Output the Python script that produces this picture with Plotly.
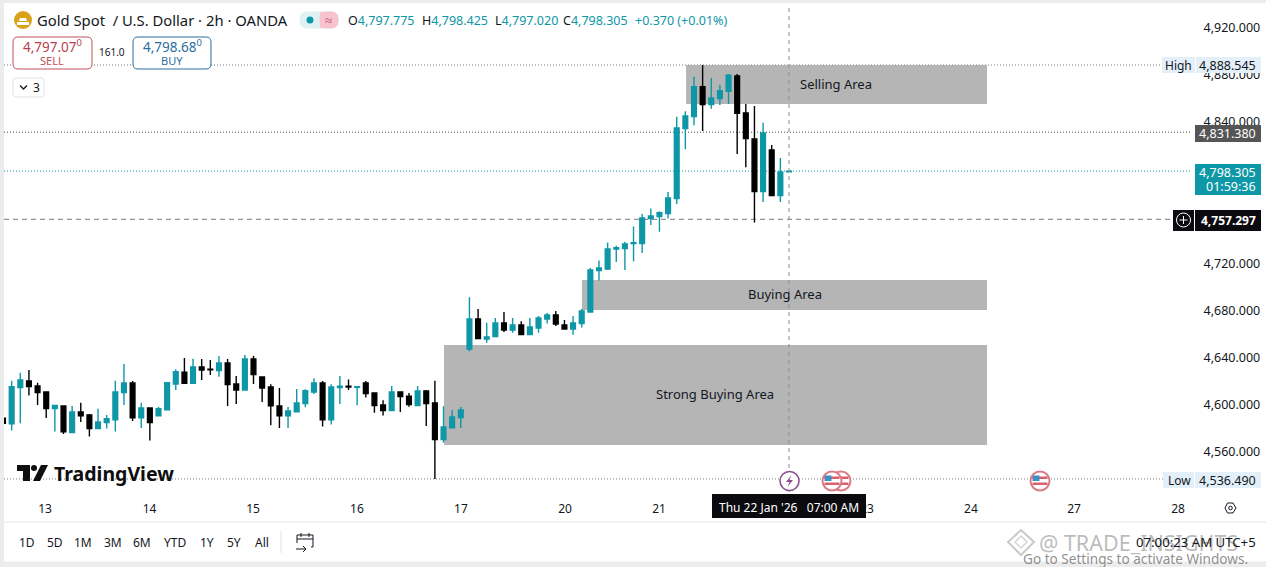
import plotly.graph_objects as go

bar_index = list(range(1, 93))
opens = [4588.1,4583.3,4614.2,4619.8,4615.6,4610.5,4596.3,4598.6,4575.9,4593.5,4590.9,4579.3,4584.4,4586.7,4609.9,4618.1,4588.4,4596.9,4590.1,4595.2,
         4617.3,4627.2,4617.9,4631.7,4629.8,4628.6,4635.1,4617.3,4612.2,4638.5,4623.2,4614.7,4598.6,4590.1,4593.5,4600.6,4610.5,4618.1,4586.7,4614.2,
         4615.3,4614.5,4618.1,4609.6,4599.4,4594.6,4610.5,4606.8,4598.9,4611.3,4601.1,4570.0,4579.9,4588.7,4647.0,4672.5,4655.5,4657.5,4669.1,4663.2,
         4667.4,4659.2,4664.9,4672.5,4676.0,4667.4,4664.0,4668.6,4678.5,4713.7,4715.1,4732.1,4732.4,4736.6,4736.6,4757.9,4759.6,4762.1,4774.9,4834.4,
         4844.6,4870.1,4854.8,4859.9,4866.2,4879.2,4847.7,4825.6,4780.9,4816.3,4777.5,4797.775]
highs = [4590.1,4620.1,4626.9,4629.2,4618.4,4610.8,4599.2,4598.9,4598.6,4601.4,4591.8,4596.3,4590.9,4620.1,4634.3,4619.8,4601.4,4597.2,4598.0,4618.7,
         4629.8,4639.4,4638.8,4638.5,4637.7,4641.1,4638.5,4624.1,4641.9,4641.1,4623.5,4617.0,4613.9,4597.7,4613.0,4612.7,4622.1,4619.8,4617.0,4624.1,
         4621.0,4615.2,4619.8,4610.2,4603.4,4615.6,4610.8,4609.6,4615.6,4612.2,4620.1,4598.3,4595.2,4597.7,4691.0,4681.0,4669.4,4673.4,4678.5,4673.4,
         4670.6,4673.4,4675.1,4677.6,4679.3,4671.7,4675.1,4681.0,4715.9,4722.2,4737.5,4734.9,4738.3,4751.1,4761.9,4766.4,4764.1,4780.6,4844.6,4849.2,
         4878.6,4888.545,4877.5,4871.8,4880.9,4880.9,4855.4,4853.7,4839.5,4820.5,4809.5,4798.425]
lows = [4582.7,4577.6,4583.9,4607.4,4599.4,4588.4,4576.8,4574.8,4575.6,4585.0,4572.5,4579.0,4579.3,4576.8,4599.4,4585.8,4579.9,4569.1,4589.8,4594.9,
        4612.2,4617.3,4617.6,4620.7,4624.9,4623.5,4598.6,4600.3,4612.0,4617.3,4602.0,4582.2,4579.9,4579.9,4593.2,4597.4,4608.8,4581.0,4582.7,4600.3,
        4612.2,4599.1,4605.7,4592.9,4590.4,4594.3,4593.5,4598.0,4598.3,4581.6,4536.49,4567.4,4579.6,4579.9,4645.1,4655.5,4652.4,4657.2,4661.5,4660.9,
        4659.0,4659.0,4660.9,4668.6,4666.6,4663.8,4659.2,4665.2,4678.2,4705.2,4714.2,4721.1,4714.2,4721.6,4728.7,4752.5,4746.8,4757.9,4770.4,4816.8,
        4837.2,4832.4,4851.4,4854.5,4855.4,4812.9,4801.5,4754.5,4772.1,4777.2,4772.1,4797.02]
closes = [4583.9,4615.0,4620.7,4615.0,4609.9,4596.3,4598.9,4576.5,4593.5,4590.1,4579.3,4585.0,4587.8,4610.5,4618.1,4588.4,4596.9,4584.4,4596.3,4618.4,
          4627.8,4617.9,4631.7,4629.2,4629.3,4635.1,4616.7,4612.2,4638.5,4625.2,4613.9,4598.6,4590.1,4594.3,4601.1,4611.6,4618.1,4586.7,4614.7,4615.3,
          4614.7,4615.0,4609.1,4598.9,4594.6,4610.5,4606.5,4599.7,4611.3,4600.6,4570.0,4580.7,4589.2,4595.2,4672.5,4655.8,4657.2,4669.1,4663.2,4667.4,
          4659.2,4665.7,4673.4,4676.0,4668.3,4664.0,4669.1,4679.3,4714.2,4715.9,4732.1,4733.2,4736.4,4737.5,4758.5,4760.2,4763.0,4775.5,4835.0,4845.2,
          4870.1,4854.8,4860.5,4866.7,4879.8,4847.5,4825.9,4780.9,4830.7,4777.5,4797.6,4798.305]

price_ticks = [4560, 4600, 4640, 4680, 4720, 4840, 4880, 4920]
price_tick_text = ["4,560.000", "4,600.000", "4,640.000", "4,680.000", "4,720.000", "4,840.000", "4,880.000", "4,920.000"]
date_tick_pos = [5.86, 17.96, 29.94, 41.98, 54.02, 66.07, 76.95, 101.03, 113.07, 125.0, 137.04]
date_tick_text = ["13", "14", "15", "16", "17", "20", "21", "23", "24", "27", "28"]

zone_names = ["Selling Area", "Buying Area", "Strong Buying Area"]
zone_x0 = [80.08, 68.03, 52.06]
zone_x1 = [114.93, 114.93, 114.93]
zone_y0 = [4855.4, 4680.2, 4565.4]
zone_y1 = [4888.5, 4705.7, 4650.4]
zone_label_x = [97.44, 91.5, 83.43]

range_buttons = ["1D", "5D", "1M", "3M", "6M", "YTD", "1Y", "5Y", "All"]
range_button_x = [27, 55, 83, 113, 142, 175, 207, 234, 262]

TEAL = "#0e97a6"
FONT = "Noto Sans"
INK = "#131722"
L, R, T, B = 4, 1192, 4, 492


def X(x):
    return (x - L) / (R - L)


def Y(y):
    return (B - y) / (B - T)


shapes = []
annotations = []


def rect(x0, y0, x1, y1, fill, line=None, lw=0, layer="above"):
    shapes.append(dict(type="rect", xref="paper", yref="paper", x0=X(x0), x1=X(x1), y0=Y(y0), y1=Y(y1),
                       fillcolor=fill, line=dict(color=line or fill, width=lw), layer=layer))


def circle(cx, cy, r, fill, line=None, lw=0):
    shapes.append(dict(type="circle", xref="paper", yref="paper", x0=X(cx - r), x1=X(cx + r), y0=Y(cy - r), y1=Y(cy + r),
                       fillcolor=fill, line=dict(color=line or fill, width=lw), layer="above"))


def poly(points, fill="rgba(0,0,0,0)", line=None, lw=0, close=True):
    d = "M " + " L ".join(f"{X(a):.5f},{Y(b):.5f}" for a, b in points) + (" Z" if close else "")
    shapes.append(dict(type="path", xref="paper", yref="paper", path=d, fillcolor=fill,
                       line=dict(color=line or fill, width=lw), layer="above"))


def rrect(x0, y0, x1, y1, r, fill, line, lw=1):
    d = (f"M {X(x0+r):.5f},{Y(y0):.5f} L {X(x1-r):.5f},{Y(y0):.5f} Q {X(x1):.5f},{Y(y0):.5f} {X(x1):.5f},{Y(y0+r):.5f} "
         f"L {X(x1):.5f},{Y(y1-r):.5f} Q {X(x1):.5f},{Y(y1):.5f} {X(x1-r):.5f},{Y(y1):.5f} "
         f"L {X(x0+r):.5f},{Y(y1):.5f} Q {X(x0):.5f},{Y(y1):.5f} {X(x0):.5f},{Y(y1-r):.5f} "
         f"L {X(x0):.5f},{Y(y0+r):.5f} Q {X(x0):.5f},{Y(y0):.5f} {X(x0+r):.5f},{Y(y0):.5f} Z")
    shapes.append(dict(type="path", xref="paper", yref="paper", path=d, fillcolor=fill,
                       line=dict(color=line, width=lw), layer="above"))


def text(x, y, s, size=12, color=INK, anchor="left", family=FONT):
    annotations.append(dict(xref="paper", yref="paper", x=X(x), y=Y(y), text=s, showarrow=False,
                            xanchor=anchor, yanchor="middle", borderpad=0,
                            font=dict(size=size, color=color, family=family)))


# zones
for name, x0, x1, y0, y1, lx in zip(zone_names, zone_x0, zone_x1, zone_y0, zone_y1, zone_label_x):
    shapes.append(dict(type="rect", xref="x", yref="y", x0=x0, x1=x1, y0=y0, y1=y1,
                       fillcolor="#b5b5b5", line=dict(width=0), layer="below"))
    annotations.append(dict(xref="x", yref="y", x=lx, y=(y0 + y1) / 2 + 0.8, text=name, showarrow=False,
                            font=dict(size=13, color=INK, family=FONT)))

# price lines
for p, col, dash in [(highs[81], "#787b86", "1px,2px"), (4831.38, "#444444", "1px,2px"), (closes[-1], TEAL, "1px,2px"),
                     (4757.297, "#787b86", "5px,4px"), (lows[50], "#787b86", "1px,2px")]:
    shapes.append(dict(type="line", xref="paper", yref="y", x0=0, x1=1, y0=p, y1=p, layer="below",
                       line=dict(color=col, width=1, dash=dash)))
# crosshair
shapes.append(dict(type="line", xref="x", yref="paper", x0=bar_index[-1], x1=bar_index[-1], y0=0, y1=1,
                   layer="above", line=dict(color="#8a8d96", width=1, dash="4px,4px")))

# frame
rect(0, 0, 1266, 3, "#ececec")
rect(0, 0, 4, 567, "#ececec")
rect(0, 561.5, 1266, 567, "#ececec")
shapes.append(dict(type="line", xref="paper", yref="paper", x0=X(4), x1=X(1266), y0=Y(522), y1=Y(522),
                   line=dict(color="#e4e6eb", width=1), layer="above"))

# header
circle(23, 20, 9, "#d9a21b")
poly([(17, 22), (29, 22), (29, 25), (17, 25)], "#ffffff")
poly([(20, 18), (26, 18), (27, 21), (19, 21)], "#ffffff")
text(36, 20, "Gold Spot  / U.S. Dollar · 2h · OANDA", 14.8)
rrect(300, 12, 338, 28, 7, "#dff1f3", "#dff1f3")
rrect(320, 12, 338, 28, 7, "#f6c3cf", "#f6c3cf")
rect(320, 12, 326, 28, "#f6c3cf")
circle(310, 20, 3.5, TEAL)
text(328, 20, "≈", 13, "#c2475c", "center")
for x, lab, val in [(347, "O", "4,797.775"), (421, "H", "4,798.425"), (494, "L", "4,797.020"), (562, "C", "4,798.305")]:
    text(x, 20, f'<span style="color:{INK}">{lab}</span>{val}', 12.5, TEAL)
text(634, 20, "+0.370 (+0.01%)", 12.5, TEAL)

rrect(13, 37, 92, 69, 5, "#ffffff", "#c0505c")
text(52, 46, "4,797.07<sup>0</sup>", 13.5, "#b8404e", "center")
text(52, 60, "SELL", 11, "#c0505c", "center")
text(112, 52, "161.0", 10, INK, "center")
rrect(133, 37, 211, 69, 5, "#ffffff", "#2c6e9e")
text(172, 46, "4,798.68<sup>0</sup>", 13.5, "#2c6e9e", "center")
text(172, 60, "BUY", 11, "#2c6e9e", "center")
rrect(13, 78, 44, 97, 3, "#ffffff", "#e0e3eb")
poly([(20, 85.5), (23.5, 89), (27, 85.5)], line=INK, lw=1.3, close=False)
text(36, 88, "3", 12, INK, "center")

# right-hand labels
rect(1162, 57, 1195, 73, "#e3eff9")
rect(1196, 57, 1261, 73, "#e3eff9")
text(1178, 65, "High", 12, INK, "center")
text(1257, 65, "4,888.545", 12.5, INK, "right")
rect(1195, 125, 1261, 142, "#555555")
text(1257, 133, "4,831.380", 12.5, "#ffffff", "right")
rect(1195, 164, 1261, 195, TEAL)
text(1257, 172, "4,798.305", 12.5, "#ffffff", "right")
text(1257, 186, "01:59:36", 12.5, "#ffffff", "right")
rect(1173, 210, 1194, 231, "#0b0b0f")
rect(1195, 210, 1261, 231, "#0b0b0f")
circle(1183.5, 220, 7, "#0b0b0f", "#ffffff", 1)
poly([(1183.5, 216), (1183.5, 224)], line="#ffffff", lw=1, close=False)
poly([(1179.5, 220), (1187.5, 220)], line="#ffffff", lw=1, close=False)
text(1257, 220, "<b>4,757.297</b>", 12, "#ffffff", "right")
rect(1163, 472, 1194, 488, "#e3eff9")
rect(1195, 472, 1261, 488, "#e3eff9")
text(1179, 480, "Low", 12, INK, "center")
text(1257, 480, "4,536.490", 12.5, INK, "right")

# TradingView logo
poly([(17, 465), (30, 465), (30, 481), (23, 481), (23, 471), (17, 471)], "#0f0f0f")
circle(34, 468, 3, "#0f0f0f")
poly([(41, 465), (48, 465), (40, 481), (33, 481)], "#0f0f0f")
text(53, 473, "<b>TradingView</b>", 19.5, "#0f0f0f")

# event icons
circle(789.5, 481, 9.5, "#ffffff", "#8b4f8e", 1.6)
poly([(791.5, 475), (786, 482), (789.5, 482), (787.5, 487), (793, 480), (789.5, 480)], "#8b4f8e")


def flag(cx):
    circle(cx, 481, 9.5, "#ffffff", "#dd7c86", 2)
    rect(cx - 7.5, 476.5, cx + 7.5, 479, "#d8606c")
    rect(cx - 7.5, 482.5, cx + 7.5, 485, "#d8606c")
    rect(cx - 7.5, 475.5, cx - 0.5, 481, "#3f8fc4")


for c in [841, 832, 1040]:
    flag(c)

# date label & settings
rect(712, 494, 866, 518, "#0b0b0f")
text(789, 507, "Thu 22 Jan '26   07:00 AM", 12, "#ffffff", "center")
hex_pts = [(1225, 508), (1227.5, 503), (1233, 503), (1236, 508), (1233, 513), (1227.5, 513)]
poly(hex_pts, line=INK, lw=1)
circle(1230.5, 508, 1.8, "#ffffff", INK, 1)

# footer
for lab, x in zip(range_buttons, range_button_x):
    text(x, 542, lab, 12, INK, "center")
shapes.append(dict(type="line", xref="paper", yref="paper", x0=X(281), x1=X(281), y0=Y(531), y1=Y(553),
                   line=dict(color="#e0e3eb", width=1), layer="above"))
poly([(311, 547), (313, 547), (313, 535), (297, 535), (297, 543)], line=INK, lw=1, close=False)
poly([(297, 539), (313, 539)], line=INK, lw=1, close=False)
poly([(301, 533), (301, 537)], line=INK, lw=1, close=False)
poly([(309, 533), (309, 537)], line=INK, lw=1, close=False)
poly([(296, 549), (306, 549)], line=INK, lw=1, close=False)
poly([(303, 546), (306, 549), (303, 552)], line=INK, lw=1, close=False)

poly([(1021, 530), (1034, 542), (1021, 555), (1008, 542)], line="#c9c9c9", lw=2)
poly([(1021, 536), (1027, 542), (1021, 548), (1015, 542)], line="#d5d5d5", lw=1.5)
text(1038, 542, "@ TRADE_INSIGHTS", 21.5, "rgba(120,120,120,0.5)")
text(1257, 542, "07:00:23 AM UTC+5", 13.2, INK, "right")
text(1022, 558, "Go to Settings to activate Windows.", 13.6, "rgba(130,130,130,0.9)")

fig = go.Figure(go.Candlestick(
    x=bar_index, open=opens, high=highs, low=lows, close=closes,
    increasing=dict(line=dict(color=TEAL, width=1.4), fillcolor=TEAL),
    decreasing=dict(line=dict(color="#000000", width=1.4), fillcolor="#000000"),
    whiskerwidth=0, hoverinfo="skip", showlegend=False,
))

fig.update_layout(
    width=1266, height=567, autosize=False,
    margin=dict(l=L, r=1266 - R, t=T, b=567 - B, pad=0),
    paper_bgcolor="#ffffff", plot_bgcolor="#ffffff",
    showlegend=False, boxgap=0.22, hovermode=False,
    shapes=shapes, annotations=annotations,
    font=dict(family=FONT, size=12, color=INK),
    xaxis=dict(range=[1.112, 138.66], tickmode="array", tickvals=date_tick_pos, ticktext=date_tick_text,
               showgrid=False, zeroline=False, showline=False, ticks="outside", ticklen=6,
               tickcolor="rgba(0,0,0,0)", rangeslider=dict(visible=False), fixedrange=True),
    yaxis=dict(range=[4525.4, 4940.4], side="right", tickmode="array", tickvals=price_ticks, ticktext=price_tick_text,
               showgrid=False, zeroline=False, showline=False, ticks="outside", ticklen=8,
               tickfont=dict(size=12.5), tickcolor="rgba(0,0,0,0)", fixedrange=True),
)

fig.write_html("out.html", config=dict(displayModeBar=False, responsive=False),
               post_script="document.body.style.margin='0';document.body.style.overflow='hidden';")
